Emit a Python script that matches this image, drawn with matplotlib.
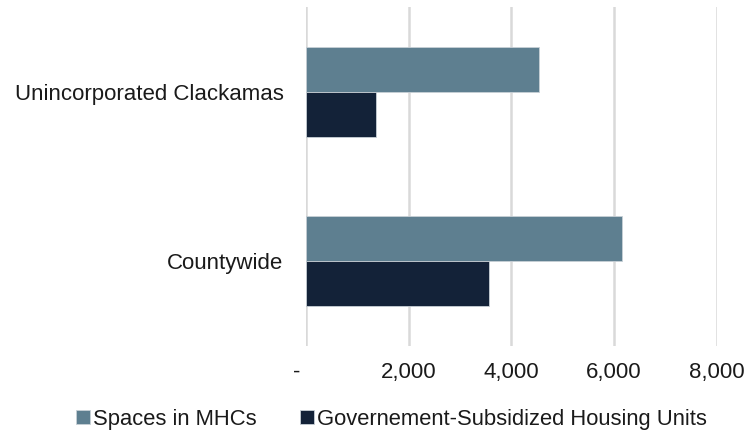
import numpy as np
import matplotlib.pyplot as plt
from matplotlib.ticker import FuncFormatter

categories = ["Countywide", "Unincorporated Clackamas"]
mhc_spaces = [6150, 4540]
subsidized_units = [3570, 1370]
series_names = ["Spaces in MHCs", "Governement-Subsidized Housing Units"]

plt.rcParams['font.family'] = ['Liberation Sans', 'DejaVu Sans']

fig = plt.figure(figsize=(7.53, 4.33), dpi=100)
ax = fig.add_axes([0.406, 0.202, 0.546, 0.781])

y = np.arange(len(categories))
h = 0.265
ax.barh(y + h / 2, mhc_spaces, height=h, color='#5E7F90', label=series_names[0],
        edgecolor='#c8d0d6', linewidth=0.6, zorder=3)
ax.barh(y - h / 2, subsidized_units, height=h, color='#132238', label=series_names[1],
        edgecolor='#c8d0d6', linewidth=0.6, zorder=3)

ax.set_xlim(0, 8000)
ax.set_ylim(-0.5, 1.5)
ax.set_xticks([0, 2000, 4000, 6000, 8000])
ax.xaxis.set_major_formatter(FuncFormatter(lambda v, p: "-   " if v == 0 else f"{v:,.0f}"))
ax.set_yticks(y)
ax.set_yticklabels(categories)
ax.tick_params(axis='both', length=0, labelsize=16, colors='#1a1a1a')
ax.tick_params(axis='x', pad=12)
ax.tick_params(axis='y', pad=16)
ax.grid(axis='x', color='#d9d9d9', linewidth=1.8, zorder=0)
for s in ax.spines.values():
    s.set_visible(False)

fig.legend(loc='lower center', bbox_to_anchor=(0.52, -0.038), ncol=2, frameon=False,
           fontsize=15.8, handlelength=0.6, handleheight=0.6, handletextpad=0.15,
           columnspacing=2.0, labelcolor='#1a1a1a')

fig.savefig("out.png", dpi=100)
